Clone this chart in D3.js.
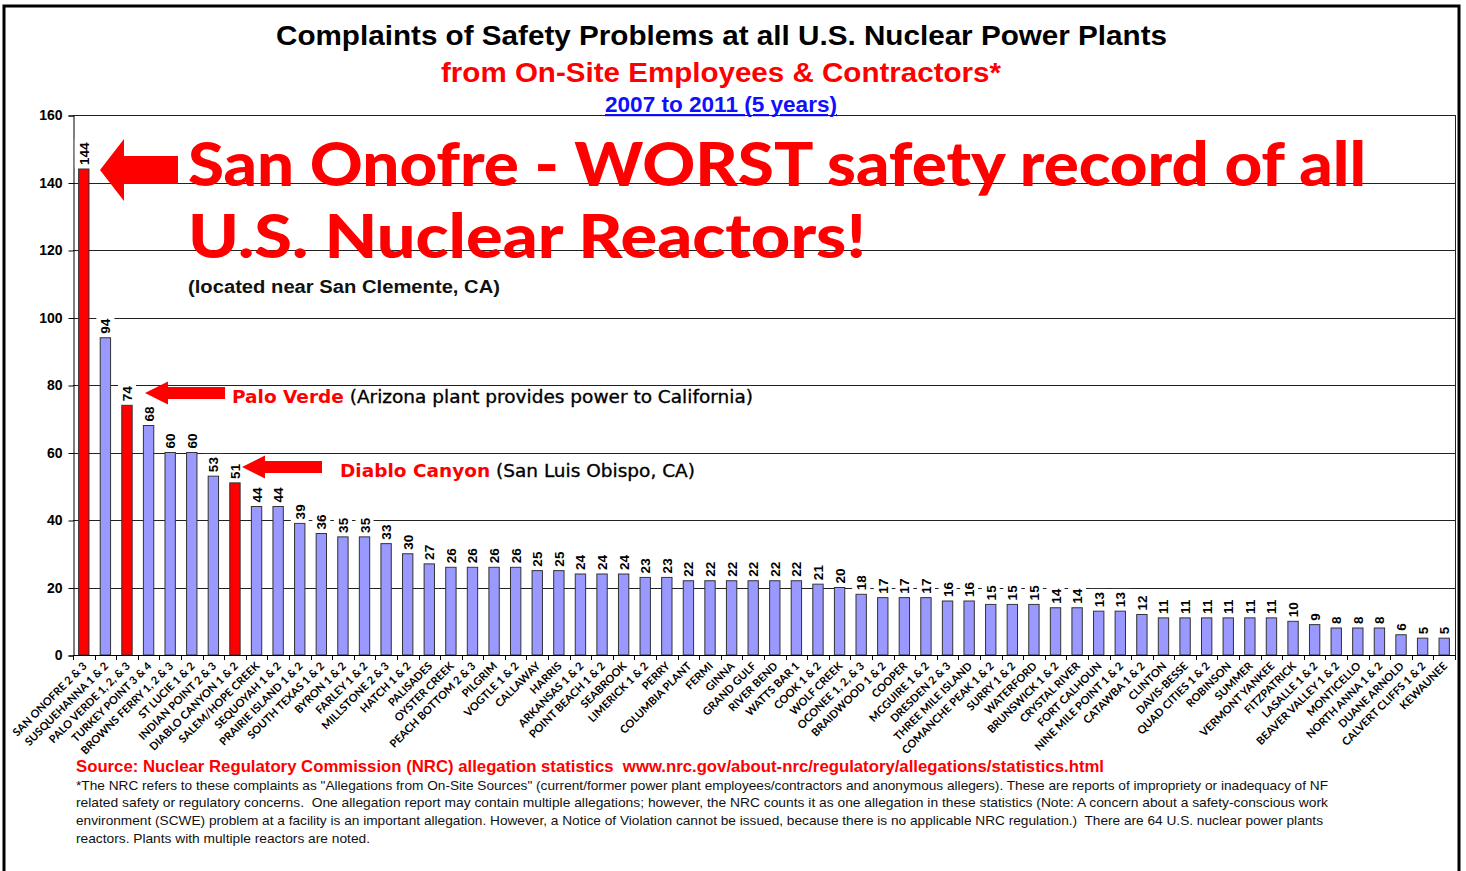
<!DOCTYPE html>
<html>
<head>
<meta charset="utf-8">
<script src="https://cdn.jsdelivr.net/npm/d3@7"></script>
<style>
  html, body { margin: 0; padding: 0; background: #fff; }
  svg { display: block; }
</style>
</head>
<body>
<svg id="chart" width="1466" height="871"></svg>
<script>
const plants = [
  "SAN ONOFRE 2 & 3", "SUSQUEHANNA 1 & 2", "PALO VERDE 1, 2, & 3", "TURKEY POINT 3 & 4",
  "BROWNS FERRY 1, 2 & 3", "ST LUCIE 1 & 2", "INDIAN POINT 2 & 3", "DIABLO CANYON 1 & 2",
  "SALEM/HOPE CREEK", "SEQUOYAH 1 & 2", "PRAIRIE ISLAND 1 & 2", "SOUTH TEXAS 1 & 2",
  "BYRON 1 & 2", "FARLEY 1 & 2", "MILLSTONE 2 & 3", "HATCH 1 & 2", "PALISADES",
  "OYSTER CREEK", "PEACH BOTTOM 2 & 3", "PILGRIM", "VOGTLE 1 & 2", "CALLAWAY", "HARRIS",
  "ARKANSAS 1 & 2", "POINT BEACH 1 & 2", "SEABROOK", "LIMERICK 1 & 2", "PERRY",
  "COLUMBIA PLANT", "FERMI", "GINNA", "GRAND GULF", "RIVER BEND", "WATTS BAR 1",
  "COOK 1 & 2", "WOLF CREEK", "OCONEE 1, 2, & 3", "BRAIDWOOD 1 & 2", "COOPER",
  "MCGUIRE 1 & 2", "DRESDEN 2 & 3", "THREE MILE ISLAND", "COMANCHE PEAK 1 & 2",
  "SURRY 1 & 2", "WATERFORD", "BRUNSWICK 1 & 2", "CRYSTAL RIVER", "FORT CALHOUN",
  "NINE MILE POINT 1 & 2", "CATAWBA 1 & 2", "CLINTON", "DAVIS-BESSE", "QUAD CITIES 1 & 2",
  "ROBINSON", "SUMMER", "VERMONT YANKEE", "FITZPATRICK", "LASALLE 1 & 2",
  "BEAVER VALLEY 1 & 2", "MONTICELLO", "NORTH ANNA 1 & 2", "DUANE ARNOLD",
  "CALVERT CLIFFS 1 & 2", "KEWAUNEE"
];
const complaints = [
  144, 94, 74, 68, 60, 60, 53, 51, 44, 44, 39, 36, 35, 35, 33, 30, 27,
  26, 26, 26, 26, 25, 25, 24, 24, 24, 23, 23, 22, 22, 22, 22, 22, 22,
  21, 20, 18, 17, 17, 17, 16, 16, 15, 15, 15, 14, 14, 13, 13, 12,
  11, 11, 11, 11, 11, 11, 10, 9, 8, 8, 8, 6, 5, 5
];
const highlighted = ["SAN ONOFRE 2 & 3", "PALO VERDE 1, 2, & 3", "DIABLO CANYON 1 & 2"];
const yTicks = [0, 20, 40, 60, 80, 100, 120, 140, 160];

const titleLines = [
  "Complaints of Safety Problems at all U.S. Nuclear Power Plants",
  "from On-Site Employees & Contractors*",
  "2007 to 2011 (5 years)"
];
const noteLines = [
  "*The NRC refers to these complaints as \"Allegations from On-Site Sources\" (current/former power plant employees/contractors and anonymous allegers). These are reports of impropriety or inadequacy of NF",
  "related safety or regulatory concerns.  One allegation report may contain multiple allegations; however, the NRC counts it as one allegation in these statistics (Note: A concern about a safety-conscious work",
  "environment (SCWE) problem at a facility is an important allegation. However, a Notice of Violation cannot be issued, because there is no applicable NRC regulation.)  There are 64 U.S. nuclear power plants",
  "reactors. Plants with multiple reactors are noted."
];

const data = plants.map((p, i) => ({ name: p, value: complaints[i], hi: highlighted.includes(p) }));

const svg = d3.select("#chart");
const pLeft = 73, pRight = 1455, pTop = 115, pBottom = 655;

const x = d3.scaleBand().domain(plants).range([pLeft, pRight]).paddingInner(0.52).paddingOuter(0.26);
const y = d3.scaleLinear().domain([0, 160]).range([pBottom, pTop]);

// outer frame
svg.append("path").attr("d", "M4,871 L4,6 L1459,6 L1459,871")
  .attr("fill", "none").attr("stroke", "#000").attr("stroke-width", 3);

// titles
const ff = "'Liberation Sans', Arial, sans-serif";
svg.append("text").attr("x", 276).attr("y", 45).text(titleLines[0])
  .attr("font-family", ff).attr("font-weight", "bold").attr("font-size", 28)
  .attr("textLength", 891).attr("lengthAdjust", "spacingAndGlyphs").attr("fill", "#000");
svg.append("text").attr("x", 441).attr("y", 82).text(titleLines[1])
  .attr("font-family", ff).attr("font-weight", "bold").attr("font-size", 28)
  .attr("textLength", 560).attr("lengthAdjust", "spacingAndGlyphs").attr("fill", "#ff0000");
svg.append("text").attr("x", 605).attr("y", 112).text(titleLines[2])
  .attr("font-family", ff).attr("font-weight", "bold").attr("font-size", 22)
  .attr("textLength", 232).attr("lengthAdjust", "spacingAndGlyphs").attr("fill", "#1010ff")
  .attr("text-decoration", "underline");

// gridlines
svg.append("g").selectAll("line").data(yTicks.filter(d => d > 0)).join("line")
  .attr("x1", pLeft).attr("x2", pRight)
  .attr("y1", d => Math.round(y(d)) + 0.5).attr("y2", d => Math.round(y(d)) + 0.5)
  .attr("stroke", "#222").attr("stroke-width", 1);
// right border
svg.append("line").attr("x1", pRight + 0.5).attr("x2", pRight + 0.5).attr("y1", pTop).attr("y2", pBottom)
  .attr("stroke", "#222").attr("stroke-width", 1);

// y axis
const yAxis = svg.append("g").attr("transform", `translate(${pLeft + 0.5},0.5)`)
  .call(d3.axisLeft(y).tickValues(yTicks).tickSize(5).tickPadding(6));
yAxis.select(".domain").attr("stroke", "#000");
yAxis.selectAll(".tick line").attr("stroke", "#000");
yAxis.selectAll(".tick text").attr("font-family", ff).attr("font-weight", "bold")
  .attr("font-size", 14).attr("fill", "#000");

// bars
svg.append("g").selectAll("rect").data(data).join("rect")
  .attr("x", d => x(d.name)).attr("width", x.bandwidth())
  .attr("y", d => y(d.value)).attr("height", d => y(0) - y(d.value))
  .attr("fill", d => d.hi ? "#ff0000" : "#9999ff")
  .attr("stroke", "#333").attr("stroke-width", 1);

// label backgrounds + value labels
const lblG = svg.append("g");
lblG.selectAll("rect").data(data).join("rect")
  .attr("x", d => x(d.name) + x.bandwidth() / 2 - 9)
  .attr("width", 18)
  .attr("y", d => y(d.value) - 4 - String(d.value).length * 7.6 - 3)
  .attr("height", d => String(d.value).length * 7.6 + 6)
  .attr("fill", "#fff");
lblG.selectAll("text").data(data).join("text")
  .attr("transform", d => `translate(${x(d.name) + x.bandwidth() / 2 + 5},${y(d.value) - 4}) rotate(-90)`)
  .attr("font-family", ff).attr("font-weight", "bold").attr("font-size", 13.5)
  .attr("fill", "#000").text(d => d.value);

// x axis line & ticks
svg.append("line").attr("x1", pLeft).attr("x2", pRight + 1).attr("y1", pBottom + 0.5).attr("y2", pBottom + 0.5)
  .attr("stroke", "#000").attr("stroke-width", 1);
const step = x.step();
svg.append("g").selectAll("line").data(d3.range(plants.length + 1)).join("line")
  .attr("x1", i => Math.round(pLeft + i * step) + 0.5).attr("x2", i => Math.round(pLeft + i * step) + 0.5)
  .attr("y1", pBottom).attr("y2", pBottom + 5).attr("stroke", "#000");

// x labels
svg.append("g").selectAll("text").data(data).join("text")
  .attr("transform", d => `translate(${x(d.name) + x.bandwidth() / 2 + 1},${pBottom + 9}) rotate(-45)`)
  .attr("text-anchor", "end").attr("dy", "0.35em")
  .attr("font-family", "Lato, 'Open Sans', sans-serif").attr("font-weight", "bold")
  .attr("font-size", 11).attr("fill", "#000").text(d => d.name);

// arrows
function arrow(tipX, tipY, headBack, headHalf, shaftHalf, endX) {
  return `M${tipX},${tipY} L${headBack},${tipY - headHalf} L${headBack},${tipY - shaftHalf} L${endX},${tipY - shaftHalf} L${endX},${tipY + shaftHalf} L${headBack},${tipY + shaftHalf} L${headBack},${tipY + headHalf} Z`;
}
svg.append("path").attr("d", arrow(100, 170, 124, 31, 14, 178)).attr("fill", "#ff0000");
svg.append("path").attr("d", arrow(145, 393, 168, 11.5, 6, 225)).attr("fill", "#ff0000");
svg.append("path").attr("d", arrow(242, 467, 265, 11.5, 6, 322)).attr("fill", "#ff0000");

// big annotation
const bigFont = "Lato, 'Liberation Sans', sans-serif";
svg.append("text").attr("x", 188).attr("y", 186).text("San Onofre - WORST safety record of all")
  .attr("font-family", bigFont).attr("font-weight", 900).attr("font-size", 60)
  .attr("textLength", 1178).attr("lengthAdjust", "spacingAndGlyphs").attr("fill", "#ff0000");
svg.append("text").attr("x", 188).attr("y", 258).text("U.S. Nuclear Reactors!")
  .attr("font-family", bigFont).attr("font-weight", 900).attr("font-size", 60)
  .attr("textLength", 678).attr("lengthAdjust", "spacingAndGlyphs").attr("fill", "#ff0000");
svg.append("text").attr("x", 188).attr("y", 293).text("(located near San Clemente, CA)")
  .attr("font-family", ff).attr("font-weight", "bold").attr("font-size", 18)
  .attr("textLength", 312).attr("lengthAdjust", "spacingAndGlyphs").attr("fill", "#111");

// Palo Verde / Diablo annotations
const vf = "'DejaVu Sans', Verdana, sans-serif";
const pv = svg.append("text").attr("x", 232).attr("y", 403).attr("font-family", vf).attr("font-size", 18.5);
pv.append("tspan").attr("font-weight", "bold").attr("fill", "#ff0000").text("Palo Verde");
pv.append("tspan").attr("fill", "#000").attr("stroke", "#000").attr("stroke-width", 0.35)
  .text(" (Arizona plant provides power to California)");
const dc = svg.append("text").attr("x", 340).attr("y", 477).attr("font-family", vf).attr("font-size", 18.5);
dc.append("tspan").attr("font-weight", "bold").attr("fill", "#ff0000").text("Diablo Canyon");
dc.append("tspan").attr("fill", "#000").attr("stroke", "#000").attr("stroke-width", 0.35)
  .text(" (San Luis Obispo, CA)");

// footer
const nf = "'Liberation Sans Narrow', 'Arial Narrow', 'Liberation Sans', sans-serif";
svg.append("text").attr("x", 76).attr("y", 772)
  .text("Source: Nuclear Regulatory Commission (NRC) allegation statistics  www.nrc.gov/about-nrc/regulatory/allegations/statistics.html")
  .attr("font-family", nf).attr("font-weight", "bold").attr("font-size", 16.5)
  .attr("textLength", 1028).attr("lengthAdjust", "spacingAndGlyphs").attr("fill", "#ff0000")
  .style("white-space", "pre");
const noteW = [1252, 1252, 1247, 294];
const noteY = [790, 807, 825, 843];
svg.append("g").selectAll("text").data(noteLines).join("text")
  .attr("x", 76).attr("y", (d, i) => noteY[i]).text(d => d)
  .attr("font-family", nf).attr("font-size", 13)
  .attr("textLength", (d, i) => noteW[i]).attr("lengthAdjust", "spacingAndGlyphs")
  .attr("fill", "#111").style("white-space", "pre");
</script>
</body>
</html>
